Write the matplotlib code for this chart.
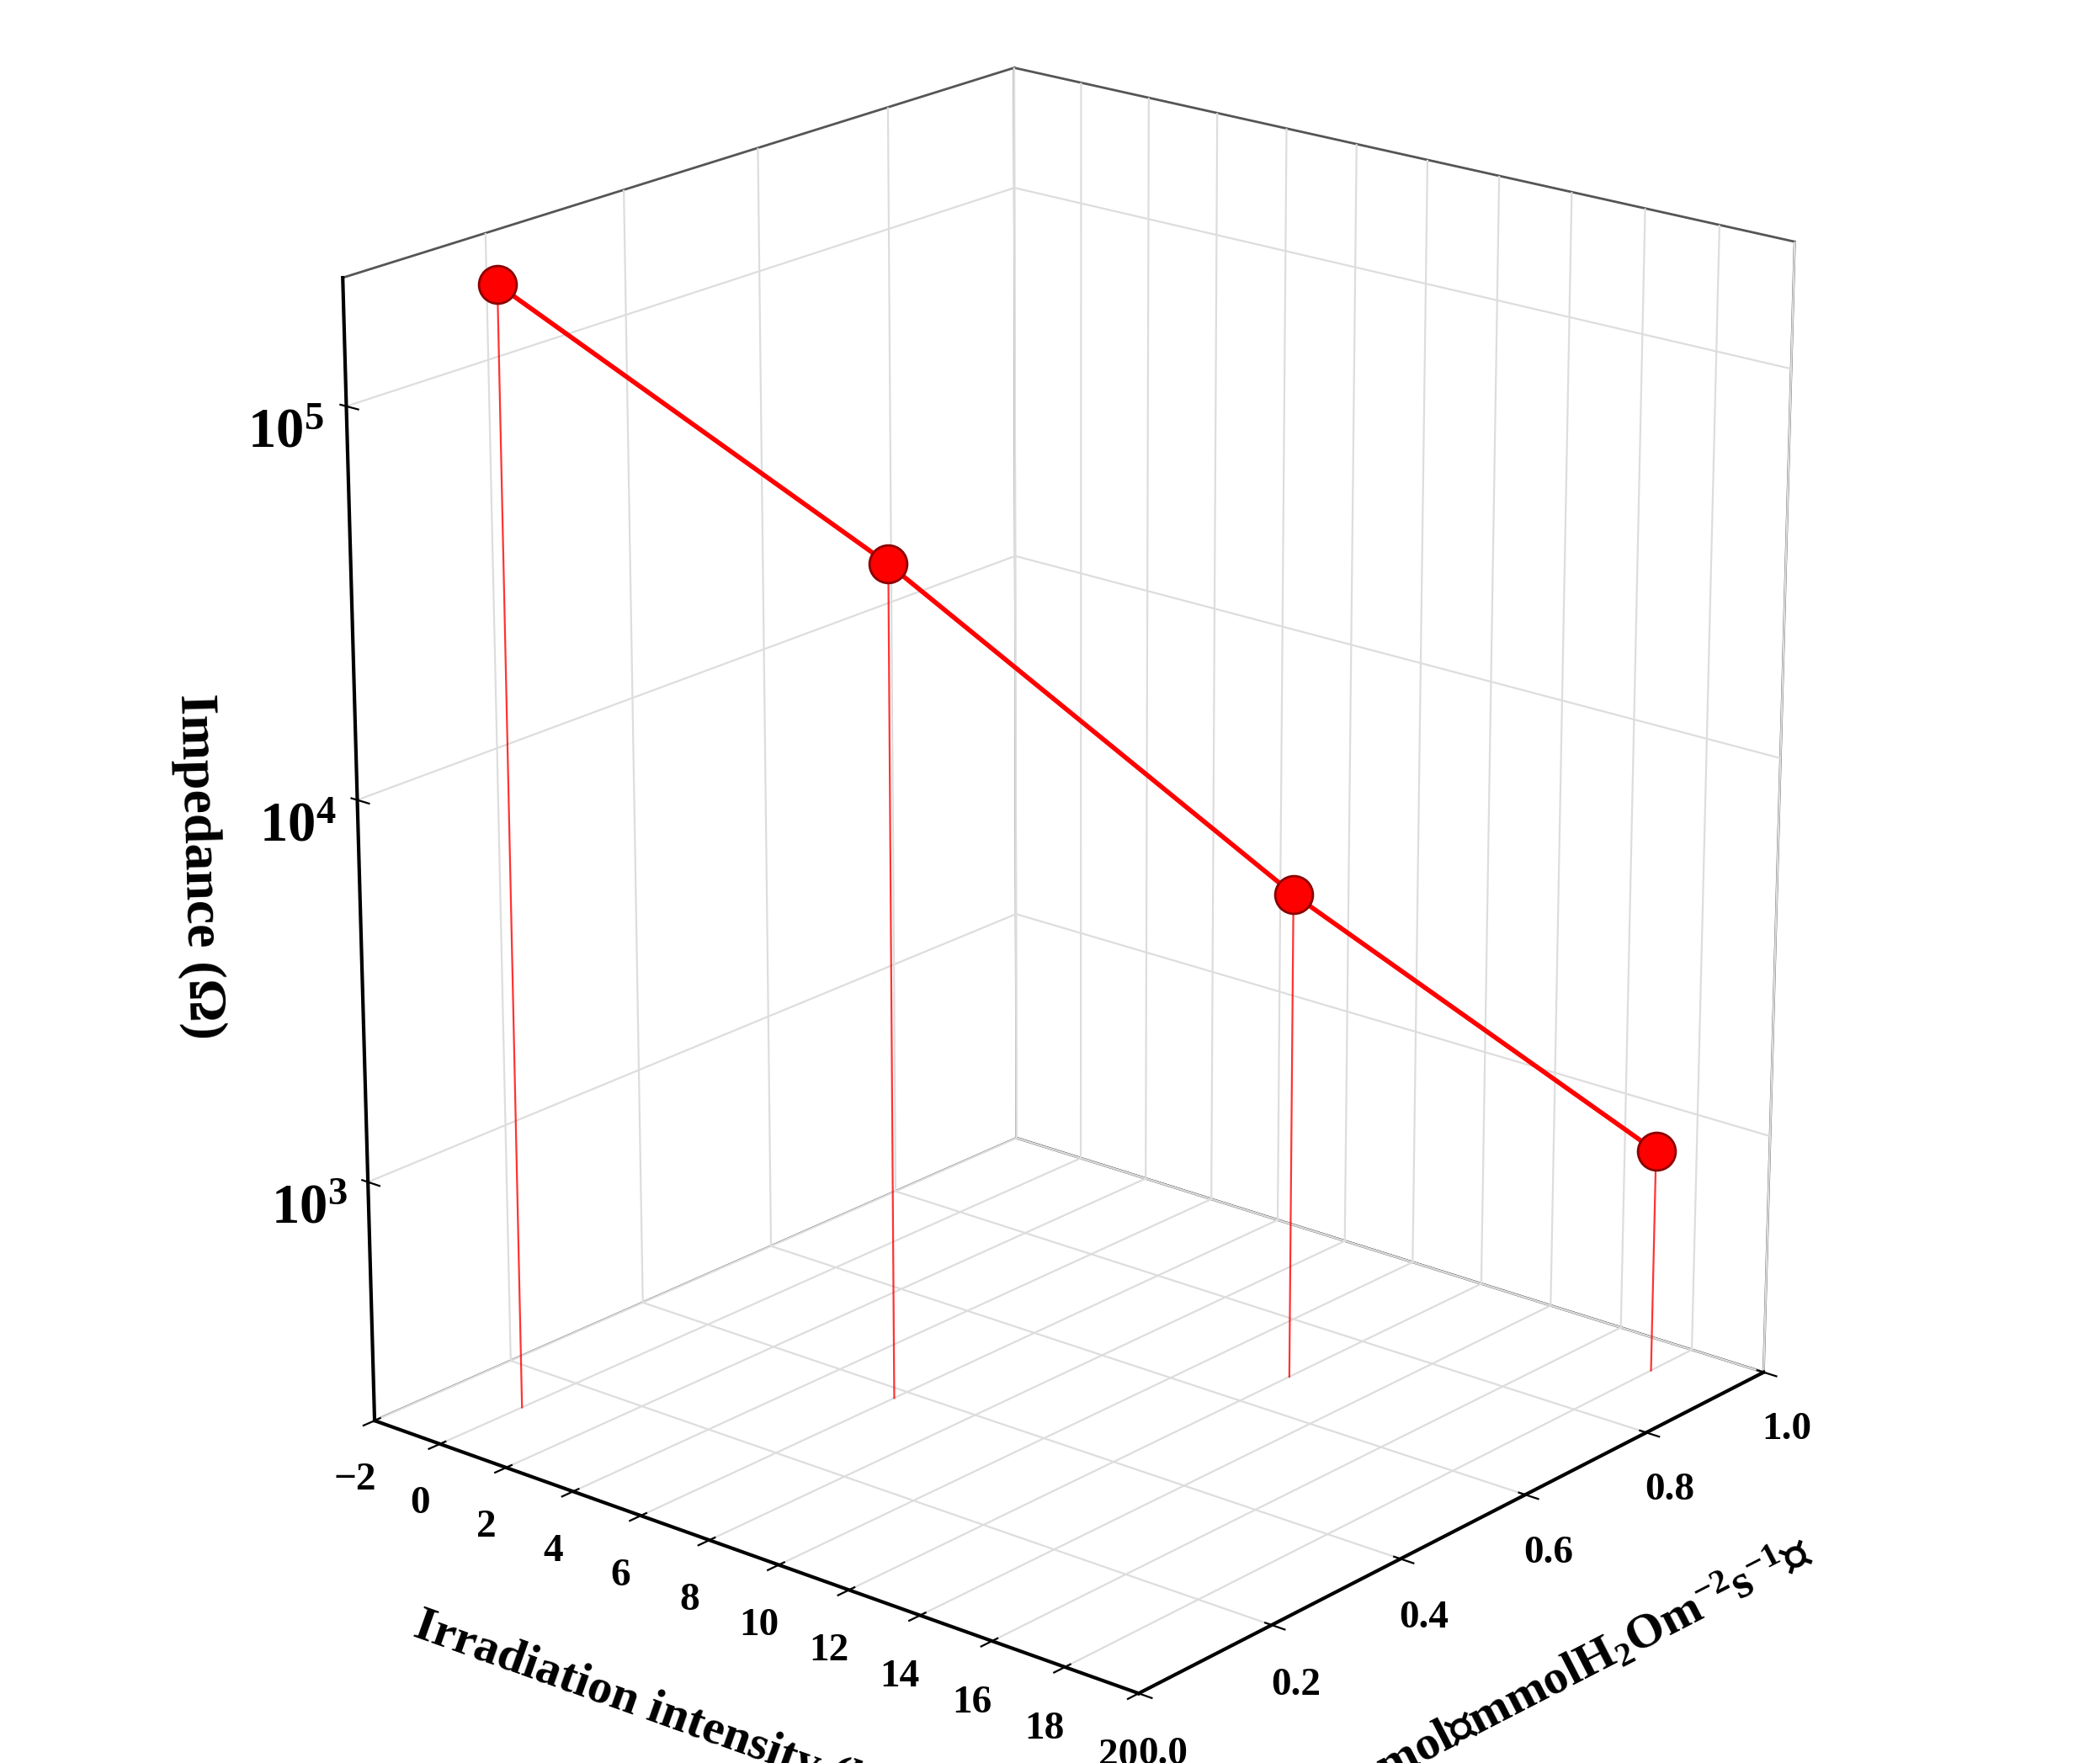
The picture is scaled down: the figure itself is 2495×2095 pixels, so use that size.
import numpy as np
import matplotlib.pyplot as plt

plt.rcParams['font.family'] = ['Liberation Serif', 'Noto Sans CJK SC']
plt.rcParams['font.weight'] = 'bold'
plt.rcParams['mathtext.fontset'] = 'custom'
plt.rcParams['mathtext.rm'] = 'Liberation Serif:bold'
plt.rcParams['mathtext.bf'] = 'Liberation Serif:bold'
plt.rcParams['mathtext.it'] = 'Liberation Serif:bold'

# data
irradiation = [0, 6, 12, 18]          # klx
trmmol = [0.12, 0.38, 0.68, 0.93]     # mmolH2O m-2 s-1
impedance = [1.9e5, 3.6e4, 4.5e3, 9.0e2]  # Ohm

x_ticks = np.arange(-2, 21, 2)
y_ticks = [0.0, 0.2, 0.4, 0.6, 0.8, 1.0]
z_ticks = [3, 4, 5]

fig = plt.figure(figsize=(12.475, 10.475), dpi=200)
ax = fig.add_subplot(111, projection='3d')
ax.view_init(elev=20, azim=-50)
ax.set_box_aspect((1, 1, 1.2), zoom=1.05)

zlog = np.log10(impedance)
zmin, zmax = 2.36, 5.32

ax.plot(irradiation, trmmol, zlog, color='red', lw=2)
for xi, yi, zi in zip(irradiation, trmmol, zlog):
    ax.plot([xi, xi], [yi, yi], [zmin, zi], color='red', lw=0.8, alpha=0.8)
ax.scatter(irradiation, trmmol, zlog, s=260, c='red', edgecolors='darkred',
           linewidths=1, depthshade=False, zorder=5)

ax.set_xlim(-2, 20)
ax.set_ylim(0, 1)
ax.set_zlim(zmin, zmax)
ax.set_xticks(x_ticks)
ax.set_yticks(y_ticks)
ax.set_yticklabels([f'{v:.1f}' for v in y_ticks])
ax.set_zticks(z_ticks)
ax.set_zticklabels([f'$10^{t}$' for t in z_ticks])

ax.tick_params(axis='x', labelsize=17)
ax.tick_params(axis='y', labelsize=17)
ax.tick_params(axis='z', labelsize=24, pad=8)

# z axis on the left side, like the original
ax.zaxis._axinfo['juggled'] = (1, 2, 0)

ax.set_xlabel('Irradiation intensity (klx)', fontsize=21, fontweight='bold', labelpad=22)
ax.set_ylabel('Trmmol（mmolH$_2$Om$^{-2}$s$^{-1}$）',
              fontsize=21, fontweight='bold', labelpad=22)
ax.set_zlabel('Impedance (Ω)', fontsize=23, fontweight='bold', labelpad=22)

for axis in (ax.xaxis, ax.yaxis, ax.zaxis):
    axis.set_pane_color((1, 1, 1, 1))
    axis.pane.set_edgecolor('#555555')
    axis._axinfo['grid']['color'] = '#dddddd'
    axis._axinfo['grid']['linewidth'] = 0.8
    axis.line.set_color('black')
    axis.line.set_linewidth(1.5)

plt.subplots_adjust(left=0.02, right=0.98, bottom=0.02, top=1.0)
plt.savefig('out.png', dpi=200)
